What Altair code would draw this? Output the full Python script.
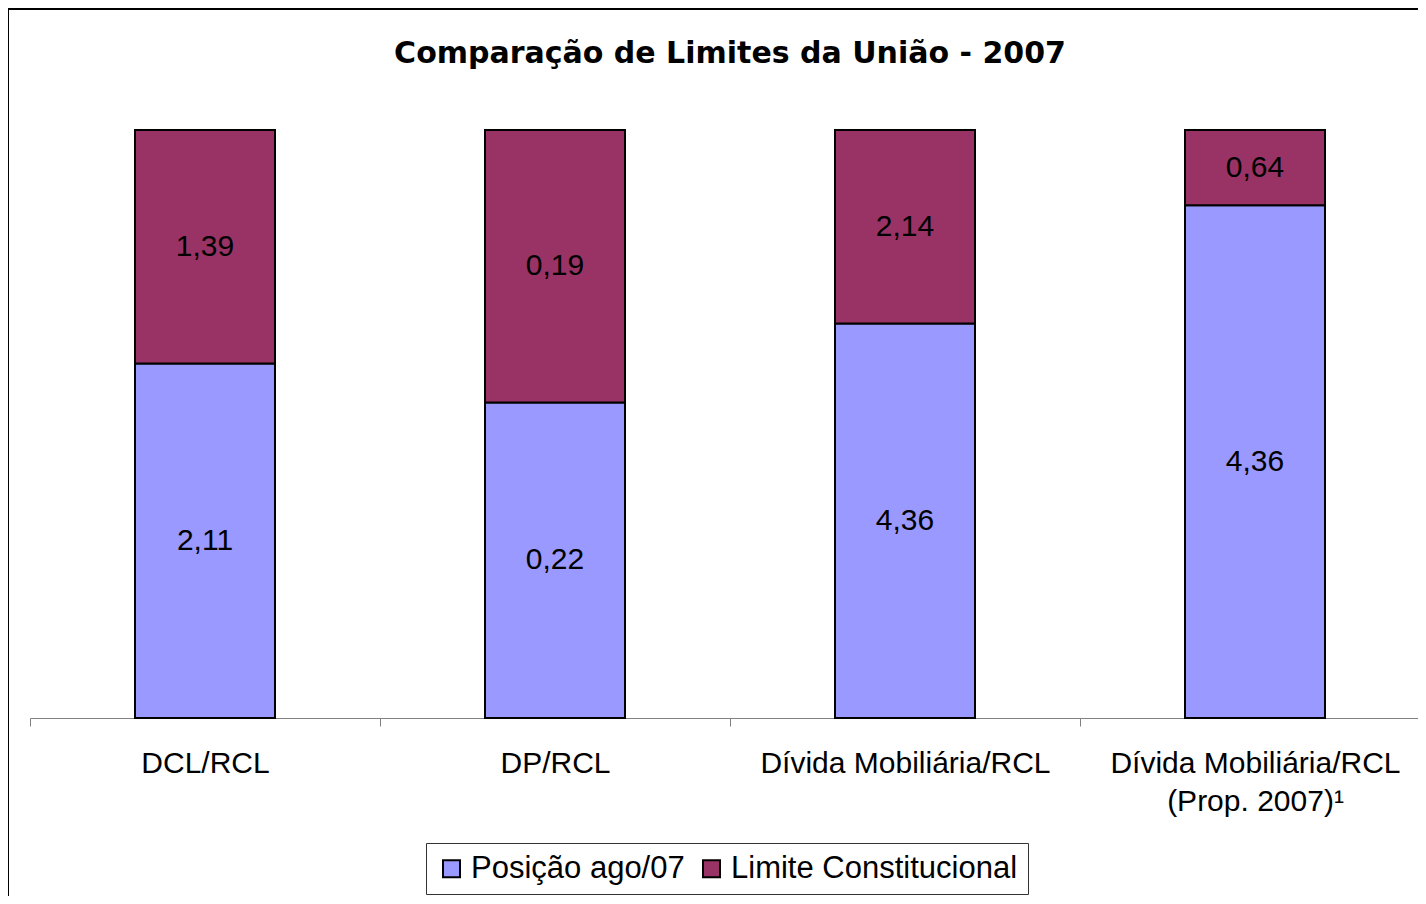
import altair as alt
import pandas as pd

categories = ["DCL/RCL", "DP/RCL", "Dívida Mobiliária/RCL", "Dívida Mobiliária/RCL (Prop. 2007)¹"]
series = ["Posição ago/07", "Limite Constitucional"]
posicao = [2.11, 0.22, 4.36, 4.36]
limite = [1.39, 0.19, 2.14, 0.64]
colors = ["#9999FF", "#993366"]

rows = []
for i, c in enumerate(categories):
    for j, vals in enumerate([posicao, limite]):
        v = vals[i]
        rows.append({"cat": c, "serie": series[j], "ord": j, "value": v,
                     "label": f"{v:.2f}".replace(".", ",")})
df = pd.DataFrame(rows)

FONT = "Liberation Sans"
W, H = 1388, 588

base = alt.Chart(df).transform_stack(
    stack="value", groupby=["cat"], as_=["y0", "y1"], offset="normalize",
    sort=[alt.SortField(field="ord", order="ascending")]
).transform_calculate(mid="(datum.y0 + datum.y1) / 2")

label_expr = ("datum.value == 'Dívida Mobiliária/RCL (Prop. 2007)¹' ? "
              "['Dívida Mobiliária/RCL', '(Prop. 2007)¹'] : datum.value")

xaxis = alt.Axis(labelAngle=0, tickBand="extent", labelExpr=label_expr,
                 domainColor="#808080", domainWidth=1, tickColor="#808080",
                 tickWidth=1, tickSize=8, labelFont=FONT, labelFontSize=30,
                 labelColor="black", labelPadding=22, labelLineHeight=38,
                 labelLimit=500, labelBaseline="top", grid=False)
xscale = alt.Scale(paddingInner=0, paddingOuter=0, range=[0, 1400])
xenc = alt.X("cat:N", sort=categories, title=None, scale=xscale, axis=xaxis)
yscale = alt.Scale(domain=[0, 1], nice=False, zero=True)

bars = base.mark_bar(width=alt.RelativeBandSize(0.4), stroke="black", strokeWidth=2).encode(
    x=xenc,
    y=alt.Y("y0:Q", scale=yscale, axis=None),
    y2="y1:Q",
    color=alt.Color("serie:N", scale=alt.Scale(domain=series, range=colors),
                    legend=alt.Legend(title=None, orient="none", legendX=396, legendY=713,
                                      direction="horizontal", symbolType="square",
                                      symbolSize=289, symbolStrokeColor="black",
                                      symbolStrokeWidth=2, symbolOpacity=1,
                                      labelFont=FONT, labelFontSize=31, labelColor="black",
                                      strokeColor="#333333", padding=10, columnPadding=11,
                                      labelOffset=4, labelLimit=500)),
)

text = base.mark_text(font=FONT, fontSize=30, color="black", baseline="middle").encode(
    x=xenc,
    y=alt.Y("mid:Q", scale=yscale, axis=None),
    text="label:N",
)

border_data = alt.Data(values=[{"a": 1}])
top_line = alt.Chart(border_data).mark_rule(color="black", strokeWidth=2).encode(
    x=alt.value(-22), x2=alt.value(W + 20), y=alt.value(-121))
left_line = alt.Chart(border_data).mark_rule(color="black", strokeWidth=2).encode(
    x=alt.value(-22), y=alt.value(-121), y2=alt.value(H + 200))

chart = alt.layer(bars, text, top_line, left_line).properties(
    width=W, height=H,
    background="white",
    title=alt.TitleParams(text="Comparação de Limites da União - 2007", font="DejaVu Sans",
                          fontSize=30, fontWeight="bold", anchor="middle", frame="group",
                          offset=0, dy=61, dx=6, color="black"),
    autosize=alt.AutoSizeParams(type="none"),
    padding={"left": 22, "top": 122, "right": 0, "bottom": 178},
).configure_view(strokeWidth=0, stroke="transparent")

chart.save("out.html", embed_options={"renderer": "svg", "actions": False})
